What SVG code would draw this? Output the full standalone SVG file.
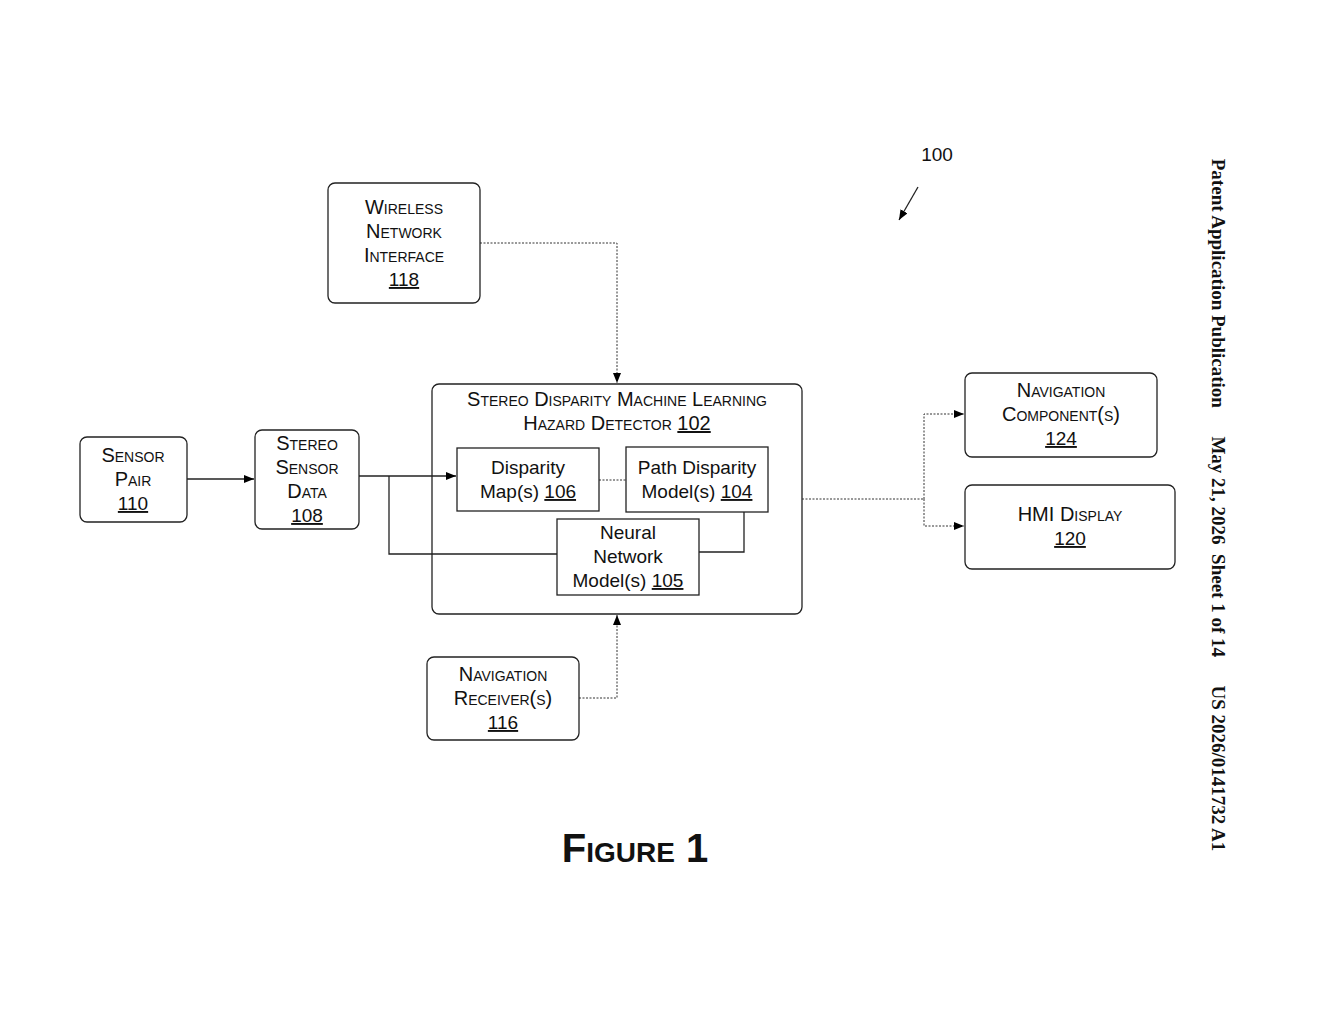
<svg xmlns="http://www.w3.org/2000/svg" width="1320" height="1024" viewBox="0 0 1320 1024">
<defs>
<marker id="ah" markerWidth="10" markerHeight="8" refX="10" refY="4" orient="auto" markerUnits="userSpaceOnUse"><path d="M0,0 L10,4 L0,8 Z" fill="#000"/></marker>
<style>
.b{fill:#fff;stroke:#222;stroke-width:1.3}
.o{fill:none;stroke:#222;stroke-width:1.3}
.t{font-family:"Liberation Sans",Arial,sans-serif;font-size:19px;fill:#111;text-anchor:middle}
.sc{font-variant:small-caps;font-size:20px}
.c{fill:none;stroke:#222;stroke-width:1.3}
.d{fill:none;stroke:#333;stroke-width:1;stroke-dasharray:2 1.5}
</style>
</defs>
<rect width="1320" height="1024" fill="#fff"/>
<g id="n102"><rect class="o" x="432" y="384" width="370" height="230" rx="7"/>
<text class="t sc" x="617" y="406">Stereo Disparity Machine Learning</text><text class="t sc" x="617" y="430">Hazard Detector  <tspan text-decoration="underline">102</tspan></text></g>
<g id="connectors">
<path class="c" d="M187,479 H254" marker-end="url(#ah)"/>
<path class="c" d="M359,476 H456" marker-end="url(#ah)"/>
<path class="c" d="M389,476 V554 H557"/>
<path class="c" d="M699,552 H744 V512"/>
<path class="d" d="M599,480 H626"/>
<path class="d" d="M480,243 H617 V383" marker-end="url(#ah)"/>
<path class="d" d="M579,698 H617 V615" marker-end="url(#ah)"/>
<path class="d" d="M802,499 H924"/>
<path class="d" d="M924,499 V414 H964" marker-end="url(#ah)"/>
<path class="d" d="M924,499 V526 H964" marker-end="url(#ah)"/>
<path class="c" d="M918,187 L899,220" marker-end="url(#ah)"/>
</g>
<g id="n118"><rect class="b" x="328" y="183" width="152" height="120" rx="7"/>
<text class="t sc" x="404" y="214">Wireless</text><text class="t sc" x="404" y="238">Network</text><text class="t sc" x="404" y="262">Interface</text><text class="t" x="404" y="286" text-decoration="underline">118</text></g>
<g id="n110"><rect class="b" x="80" y="437" width="107" height="85" rx="7"/>
<text class="t sc" x="133" y="462">Sensor</text><text class="t sc" x="133" y="486">Pair</text><text class="t" x="133" y="510" text-decoration="underline">110</text></g>
<g id="n108"><rect class="b" x="255" y="430" width="104" height="99" rx="7"/>
<text class="t sc" x="307" y="450">Stereo</text><text class="t sc" x="307" y="474">Sensor</text><text class="t sc" x="307" y="498">Data</text><text class="t" x="307" y="522" text-decoration="underline">108</text></g>
<g id="n106"><rect class="b" x="457" y="448" width="142" height="63"/>
<text class="t" x="528" y="474">Disparity</text><text class="t" x="528" y="498">Map(s) <tspan text-decoration="underline">106</tspan></text></g>
<g id="n104"><rect class="b" x="626" y="447" width="142" height="65"/>
<text class="t" x="697" y="474">Path Disparity</text><text class="t" x="697" y="498">Model(s) <tspan text-decoration="underline">104</tspan></text></g>
<g id="n105"><rect class="b" x="557" y="519" width="142" height="76"/>
<text class="t" x="628" y="539">Neural</text><text class="t" x="628" y="563">Network</text><text class="t" x="628" y="587">Model(s) <tspan text-decoration="underline">105</tspan></text></g>
<g id="n116"><rect class="b" x="427" y="657" width="152" height="83" rx="7"/>
<text class="t sc" x="503" y="681">Navigation</text><text class="t sc" x="503" y="705">Receiver(s)</text><text class="t" x="503" y="729" text-decoration="underline">116</text></g>
<g id="n124"><rect class="b" x="965" y="373" width="192" height="84" rx="7"/>
<text class="t sc" x="1061" y="397">Navigation</text><text class="t sc" x="1061" y="421">Component(s)</text><text class="t" x="1061" y="445" text-decoration="underline">124</text></g>
<g id="n120"><rect class="b" x="965" y="485" width="210" height="84" rx="7"/>
<text class="t sc" x="1070" y="521">HMI Display</text><text class="t" x="1070" y="545" text-decoration="underline">120</text></g>
<text class="t" x="937" y="161">100</text>
<text class="t sc" x="635" y="862" style="font-size:40px;font-weight:bold">Figure 1</text>
<text transform="translate(1212,505) rotate(90)" style="font-family:'Liberation Serif',serif;font-size:19px;font-weight:bold;fill:#111" text-anchor="middle" xml:space="preserve">Patent Application Publication      May 21, 2026  Sheet 1 of 14      US 2026/0141732 A1</text>
</svg>
